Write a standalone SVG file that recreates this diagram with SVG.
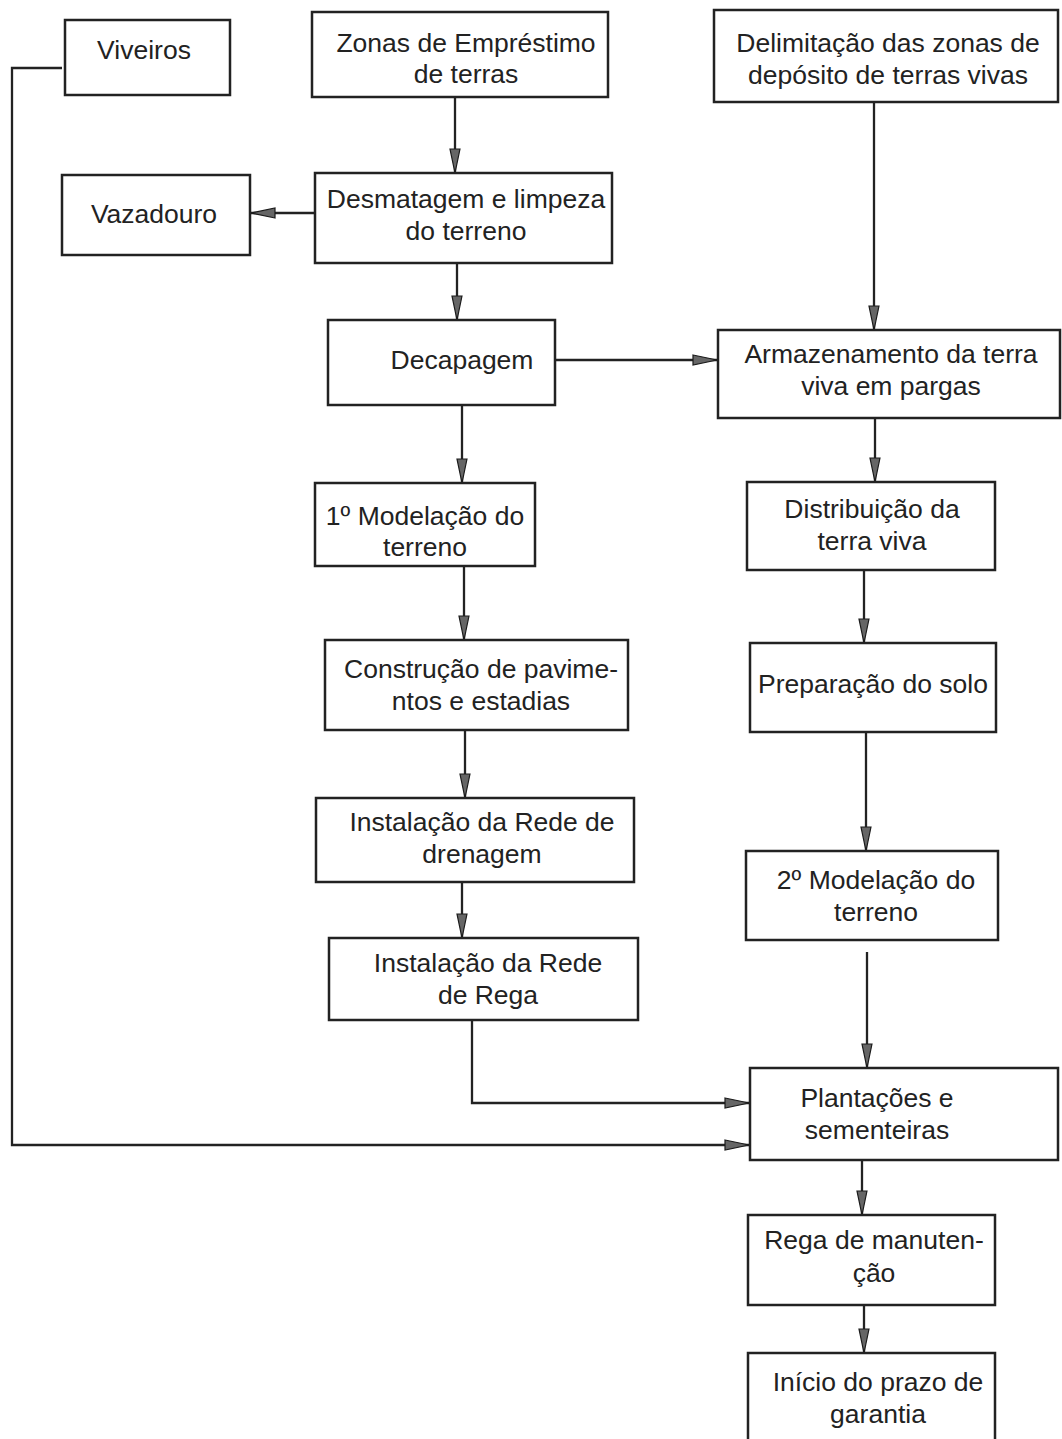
<svg xmlns="http://www.w3.org/2000/svg" width="1062" height="1439" viewBox="0 0 1062 1439">
<style>
.box{fill:#fff;stroke:#222;stroke-width:2.5}
.t{font-family:"Liberation Sans",Arial,sans-serif;font-size:26.5px;fill:#222;text-anchor:middle}
.c{fill:none;stroke:#222;stroke-width:2.3}
</style>
<defs>
<marker id="ah" markerUnits="userSpaceOnUse" markerWidth="28" markerHeight="14" refX="25" refY="6" orient="auto" viewBox="0 0 28 12">
<path d="M1,1 L25,6 L1,11 Z" fill="#666" stroke="#1a1a1a" stroke-width="1.2"/>
</marker>
</defs>
<rect width="1062" height="1439" fill="#fff"/>
<g id="connectors">
<path class="c" d="M455,97 V173" marker-end="url(#ah)"/>
<path class="c" d="M315,213 H251" marker-end="url(#ah)"/>
<path class="c" d="M457,263 V320" marker-end="url(#ah)"/>
<path class="c" d="M555,360 H717" marker-end="url(#ah)"/>
<path class="c" d="M874,102 V330" marker-end="url(#ah)"/>
<path class="c" d="M462,405 V483" marker-end="url(#ah)"/>
<path class="c" d="M875,418 V482" marker-end="url(#ah)"/>
<path class="c" d="M464,566 V640" marker-end="url(#ah)"/>
<path class="c" d="M864,570 V643" marker-end="url(#ah)"/>
<path class="c" d="M465,730 V798" marker-end="url(#ah)"/>
<path class="c" d="M866,732 V851" marker-end="url(#ah)"/>
<path class="c" d="M462,882 V938" marker-end="url(#ah)"/>
<path class="c" d="M867,952 V1068" marker-end="url(#ah)"/>
<path class="c" d="M472,1020 V1103 H749" marker-end="url(#ah)"/>
<path class="c" d="M62,68 H12 V1145 H749" marker-end="url(#ah)"/>
<path class="c" d="M862,1160 V1215" marker-end="url(#ah)"/>
<path class="c" d="M864,1305 V1353" marker-end="url(#ah)"/>
</g>
<g id="viveiros"><rect class="box" x="65" y="20" width="165" height="75"/><text class="t" x="144" y="59">Viveiros</text></g>
<g id="zonas"><rect class="box" x="312" y="12" width="296" height="85"/><text class="t" x="466" y="52">Zonas de Empréstimo</text><text class="t" x="466" y="83">de terras</text></g>
<g id="delimitacao"><rect class="box" x="714" y="10" width="344" height="92"/><text class="t" x="888" y="52">Delimitação das zonas de</text><text class="t" x="888" y="84">depósito de terras vivas</text></g>
<g id="vazadouro"><rect class="box" x="62" y="175" width="188" height="80"/><text class="t" x="154" y="223">Vazadouro</text></g>
<g id="desmatagem"><rect class="box" x="315" y="173" width="297" height="90"/><text class="t" x="466" y="208">Desmatagem e limpeza</text><text class="t" x="466" y="240">do terreno</text></g>
<g id="decapagem"><rect class="box" x="328" y="320" width="227" height="85"/><text class="t" x="462" y="369">Decapagem</text></g>
<g id="armazenamento"><rect class="box" x="718" y="330" width="342" height="88"/><text class="t" x="891" y="363">Armazenamento da terra</text><text class="t" x="891" y="395">viva em pargas</text></g>
<g id="modelacao1"><rect class="box" x="315" y="483" width="220" height="83"/><text class="t" x="425" y="525">1º Modelação do</text><text class="t" x="425" y="556">terreno</text></g>
<g id="distribuicao"><rect class="box" x="747" y="482" width="248" height="88"/><text class="t" x="872" y="518">Distribuição da</text><text class="t" x="872" y="550">terra viva</text></g>
<g id="construcao"><rect class="box" x="325" y="640" width="303" height="90"/><text class="t" x="481" y="678">Construção de pavime-</text><text class="t" x="481" y="710">ntos e estadias</text></g>
<g id="preparacao"><rect class="box" x="750" y="643" width="246" height="89"/><text class="t" x="873" y="693">Preparação do solo</text></g>
<g id="drenagem"><rect class="box" x="316" y="798" width="318" height="84"/><text class="t" x="482" y="831">Instalação da Rede de</text><text class="t" x="482" y="863">drenagem</text></g>
<g id="modelacao2"><rect class="box" x="746" y="851" width="252" height="89"/><text class="t" x="876" y="889">2º Modelação do</text><text class="t" x="876" y="921">terreno</text></g>
<g id="rega"><rect class="box" x="329" y="938" width="309" height="82"/><text class="t" x="488" y="972">Instalação da Rede</text><text class="t" x="488" y="1004">de Rega</text></g>
<g id="plantacoes"><rect class="box" x="750" y="1068" width="308" height="92"/><text class="t" x="877" y="1107">Plantações e</text><text class="t" x="877" y="1139">sementeiras</text></g>
<g id="manutencao"><rect class="box" x="748" y="1215" width="247" height="90"/><text class="t" x="874" y="1249">Rega de manuten-</text><text class="t" x="874" y="1282">ção</text></g>
<g id="inicio"><rect class="box" x="748" y="1353" width="247" height="92"/><text class="t" x="878" y="1391">Início do prazo de</text><text class="t" x="878" y="1423">garantia</text></g>
</svg>
